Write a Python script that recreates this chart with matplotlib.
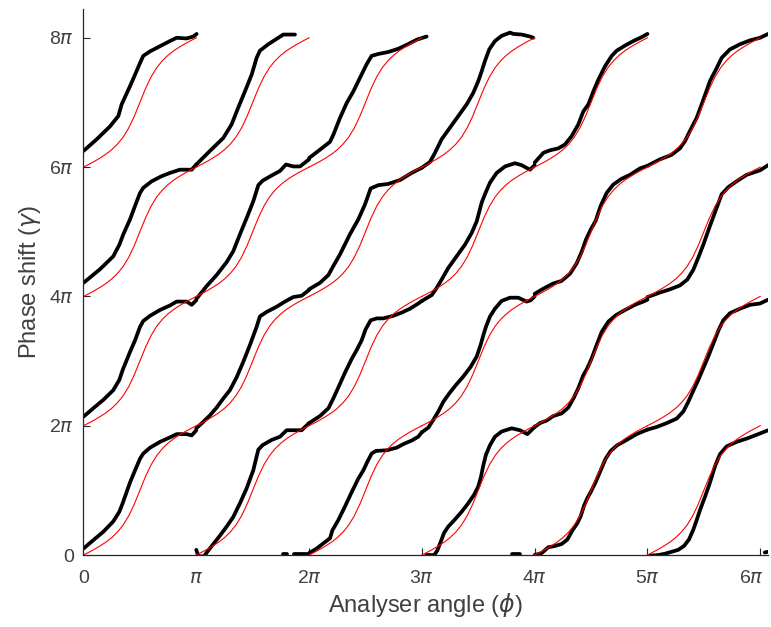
import numpy as np
import matplotlib.pyplot as plt
import matplotlib.transforms as mtransforms

# theory branch: phi/pi in [0, 1] -> gamma/pi in [0, 2]
theory_u = [0, .05, .1, .15, .2, .25, .3, .35, .4, .45, .5,
            .55, .6, .65, .7, .75, .8, .85, .9, .95, 1.0]
theory_v = [0, .045, .092, .144, .201, .269, .353, .46, .602, .785, 1.0,
            1.215, 1.398, 1.54, 1.647, 1.731, 1.799, 1.856, 1.908, 1.955, 2.0]

# measured points, one branch per (column, row): (phi/pi within column, gamma/pi within row)
c0r0 = ([0, .087, .176, .264, .318, .347, .412, .457, .501, .53, .59, .678, .767, .826, .915, .959, 1.0],
        [.10, .23, .36, .52, .67, .80, 1.12, 1.31, 1.49, 1.57, 1.66, 1.75, 1.82, 1.87, 1.87, 1.85, 1.93])
c0r1 = ([0, .087, .176, .264, .318, .347, .412, .457, .501, .53, .59, .678, .767, .826, .915, .959, 1.0],
        [.14, .27, .40, .55, .71, .86, 1.14, 1.32, 1.53, 1.62, 1.70, 1.79, 1.86, 1.92, 1.92, 1.87, 1.94])
c0r2 = ([0, .146, .264, .318, .353, .412, .457, .501, .53, .604, .693, .767, .855, .959, 1.0],
        [.21, .42, .62, .80, .96, 1.19, 1.40, 1.60, 1.68, 1.78, 1.86, 1.91, 1.96, 1.96, 2.04])
c0r3 = ([0, .117, .235, .309, .338, .412, .457, .501, .53, .59, .678, .767, .826, .915, .974, 1.003],
        [.25, .43, .63, .79, .97, 1.25, 1.43, 1.61, 1.72, 1.79, 1.87, 1.95, 2.0, 1.99, 2.02, 2.06])

c1r0 = ([0, .018, .068, .106, .151, .21, .269, .328, .387, .446, .505, .55, .588, .668, .742, .801, .875, .934, 1.0],
        [.08, -.02, -.02, .07, .17, .30, .44, .59, .80, 1.03, 1.31, 1.63, 1.70, 1.78, 1.83, 1.93, 1.93, 1.93, 2.04])
c1r1 = ([0, .062, .121, .18, .239, .298, .358, .417, .476, .535, .564, .624, .712, .786, .86, .934, 1.0],
        [-.04, .06, .16, .28, .42, .55, .75, .99, 1.25, 1.53, 1.69, 1.76, 1.84, 1.92, 1.99, 2.01, 2.1])
c1r2 = ([0, .092, .18, .269, .328, .387, .446, .505, .55, .588, .668, .742, .795, .86, .92, 1.0],
        [-.04, .16, .33, .53, .70, .96, 1.21, 1.47, 1.72, 1.79, 1.87, 1.94, 2.04, 2.01, 2.01, 2.12])
c1r3 = ([0, .121, .239, .313, .372, .431, .491, .535, .564, .638, .727, .771, .875],
        [.04, .25, .45, .66, .92, 1.17, 1.43, 1.69, 1.80, 1.90, 2.0, 2.05, 2.05])

c2r0 = ([-.02, 0, .067, .141, .186, .206, .259, .318, .377, .436, .481, .516, .555, .593, .687, .776, .841, .909, .968, 1.0],
        [0, .03, .10, .20, .26, .38, .54, .75, .97, 1.18, 1.31, 1.44, 1.57, 1.61, 1.62, 1.66, 1.72, 1.77, 1.83, 1.90])
c2r1 = ([0, .097, .171, .209, .259, .318, .377, .422, .466, .501, .546, .599, .658, .747, .821, .895, .968, 1.0],
        [.04, .15, .27, .40, .59, .82, 1.03, 1.17, 1.32, 1.49, 1.63, 1.66, 1.66, 1.70, 1.75, 1.81, 1.89, 1.93])
c2r2 = ([0, .097, .171, .215, .274, .362, .436, .495, .546, .613, .702, .806, .909, 1.0],
        [.11, .21, .33, .47, .65, .96, 1.19, 1.42, 1.67, 1.72, 1.74, 1.80, 1.91, 1.99])
c2r3 = ([0, .097, .185, .215, .274, .333, .392, .451, .51, .554, .613, .702, .79, .865, .954, 1.042],
        [.14, .27, .39, .50, .76, .99, 1.17, 1.38, 1.59, 1.72, 1.75, 1.78, 1.83, 1.89, 1.97, 2.02])

c3r0 = ([.04, .11, .137, .166, .196, .234, .293, .353, .411, .462, .5, .524, .545, .568, .604, .648, .707, .796, .87, .935, .988, 1.0],
        [0, 0, .07, .20, .34, .44, .55, .67, .80, .93, 1.06, 1.21, 1.39, 1.55, 1.70, 1.83, 1.91, 1.96, 1.93, 1.87, 1.96, 1.99])
c3r1 = ([0, .057, .101, .146, .19, .243, .302, .367, .432, .486, .521, .545, .568, .604, .648, .707, .781, .855, .929, .964, 1.0],
        [-.10, -.03, .09, .22, .37, .50, .63, .76, .91, 1.07, 1.25, 1.40, 1.53, 1.69, 1.81, 1.93, 1.98, 1.98, 1.92, 1.94, 2.0])
c3r2 = ([0, .087, .131, .175, .234, .308, .382, .441, .486, .53, .559, .604, .663, .737, .825, .884, .958, 1.0],
        [-.07, .02, .13, .26, .44, .62, .80, .98, 1.16, 1.45, 1.58, 1.76, 1.91, 2.01, 2.06, 2.03, 1.96, 2.03])
c3r3 = ([0, .072, .116, .175, .249, .323, .397, .456, .5, .53, .559, .597, .648, .707, .781, .811, .884, .958, .988],
        [-.01, .08, .22, .43, .61, .79, .97, 1.15, 1.33, 1.48, 1.64, 1.82, 1.95, 2.03, 2.08, 2.06, 2.05, 2.02, 2.0])

c4r0 = ([0, .062, .121, .18, .239, .29, .334, .378, .408, .437, .467, .499, .541, .585, .629, .674, .733, .816, .904, 1.0],
        [0, .03, .12, .14, .17, .24, .38, .49, .60, .76, .88, .98, 1.13, 1.31, 1.49, 1.61, 1.70, 1.78, 1.87, 1.94])
c4r1 = ([0, .047, .106, .165, .239, .298, .343, .387, .431, .467, .505, .55, .594, .653, .721, .801, .889, .963, 1.0],
        [-.02, .04, .08, .15, .19, .28, .42, .58, .78, .89, 1.04, 1.25, 1.45, 1.61, 1.71, 1.79, 1.87, 1.92, 1.95])
c4r2 = ([0, .077, .165, .239, .313, .372, .417, .455, .496, .541, .585, .638, .697, .771, .845, .934, 1.0],
        [.04, .12, .20, .24, .35, .51, .69, .88, 1.03, 1.17, 1.40, 1.60, 1.73, 1.82, 1.88, 1.98, 2.02])
c4r3 = ([0, .077, .136, .21, .269, .328, .387, .431, .476, .52, .564, .624, .683, .727, .801, .875, .949, 1.0],
        [.07, .22, .26, .29, .35, .48, .66, .86, .97, 1.17, 1.35, 1.56, 1.72, 1.80, 1.88, 1.95, 2.01, 2.06])

c5r0 = ([.022, .096, .155, .214, .273, .324, .368, .406, .436, .471, .51, .554, .598, .643, .702, .79, .879, .968, 1.07],
        [-.01, 0, .02, .05, .08, .14, .24, .39, .54, .72, .90, 1.12, 1.37, 1.56, 1.68, 1.75, 1.80, 1.86, 1.93])
c5r1 = ([0, .081, .17, .259, .318, .362, .406, .451, .495, .539, .584, .628, .672, .731, .82, .909, .998, 1.07],
        [-.06, -.02, .04, .11, .22, .37, .54, .71, .89, 1.07, 1.27, 1.47, 1.63, 1.74, 1.81, 1.87, 1.89, 1.95])
c5r2 = ([0, .111, .2, .288, .353, .406, .451, .495, .554, .607, .658, .717, .79, .879, .998, 1.07],
        [-.01, .06, .11, .17, .26, .41, .60, .80, 1.09, 1.34, 1.58, 1.69, 1.78, 1.88, 1.95, 2.03])
c5r3 = ([0, .111, .214, .288, .332, .377, .436, .495, .554, .613, .658, .731, .82, .909, .998, 1.07],
        [.02, .12, .19, .29, .40, .56, .76, 1.04, 1.33, 1.53, 1.69, 1.82, 1.90, 1.96, 2.0, 2.06])

# points that wrapped past 8*pi and show up on the bottom axis (phi/pi, gamma/pi)
wrap_phi = [[1.77, 1.80], [1.87, 1.97], [3.80, 3.87], [6.04, 6.07]]
wrap_gam = [[0.02, 0.02], [0.02, 0.02], [0.02, 0.02], [0.04, 0.05]]

measured = {(0, 0): c0r0, (0, 1): c0r1, (0, 2): c0r2, (0, 3): c0r3,
            (1, 0): c1r0, (1, 1): c1r1, (1, 2): c1r2, (1, 3): c1r3,
            (2, 0): c2r0, (2, 1): c2r1, (2, 2): c2r2, (2, 3): c2r3,
            (3, 0): c3r0, (3, 1): c3r1, (3, 2): c3r2, (3, 3): c3r3,
            (4, 0): c4r0, (4, 1): c4r1, (4, 2): c4r2, (4, 3): c4r3,
            (5, 0): c5r0, (5, 1): c5r1, (5, 2): c5r2, (5, 3): c5r3}

xtick_labels = ['0', r'$\pi$', r'2$\pi$', r'3$\pi$', r'4$\pi$', r'5$\pi$', r'6$\pi$']
ytick_labels = ['0', r'2$\pi$', r'4$\pi$', r'6$\pi$', r'8$\pi$']

plt.rcParams['font.family'] = ['Liberation Sans', 'DejaVu Sans']
txt = '#404040'

fig = plt.figure(figsize=(7.71, 6.27), dpi=100)
ax = fig.add_axes([0.1083, 0.1148, 0.888, 0.8703])

# measured data (black)
for (col, row), (u, v) in measured.items():
    x = (col + np.array(u)) * np.pi
    y = (2 * row + np.array(v)) * np.pi
    ax.plot(x, y, color='black', lw=2.7, solid_capstyle='round', solid_joinstyle='round')
for p, g in zip(wrap_phi, wrap_gam):
    ax.plot(np.array(p) * np.pi, np.array(g) * np.pi, color='black', lw=2.7, solid_capstyle='round')

# theory (red), same branch repeated in every column / row
tu = np.array(theory_u)
tv = np.array(theory_v)
for col in range(6):
    for row in range(4):
        ax.plot((col + tu) * np.pi, (2 * row + tv) * np.pi, color='red', lw=0.8)

ax.set_xlim(0, 6.07 * np.pi)
ax.set_ylim(0, 8.44 * np.pi)
ax.set_xticks(np.arange(7) * np.pi)
ax.set_xticklabels(xtick_labels)
ax.set_yticks(np.arange(0, 9, 2) * np.pi)
ax.set_yticklabels(ytick_labels)

ax.spines['top'].set_visible(False)
ax.spines['right'].set_visible(False)
for s in ['left', 'bottom']:
    ax.spines[s].set_color('#262626')
    ax.spines[s].set_linewidth(0.9)
ax.tick_params(direction='in', length=5, width=0.8, colors='#262626', labelcolor=txt, labelsize=14)
ax.tick_params(axis='x', pad=11)
ax.tick_params(axis='y', pad=7)

# last x label sits at the figure edge, nudge it inside
last = ax.get_xticklabels()[-1]
last.set_transform(last.get_transform() + mtransforms.ScaledTranslation(-6 / 72, 0, fig.dpi_scale_trans))

ax.set_xlabel(r'Analyser angle ($\phi$)', fontsize=17, color=txt, labelpad=3)
ax.set_ylabel(r'Phase shift ($\gamma$)', fontsize=17, color=txt, labelpad=4)

fig.savefig('out.png', dpi=100)
